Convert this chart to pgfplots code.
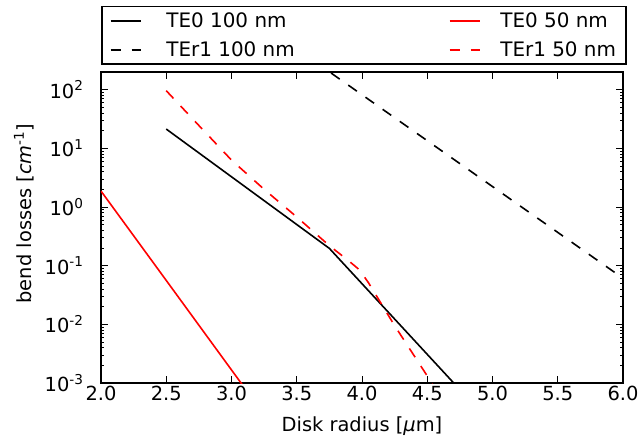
\documentclass[border=0pt]{standalone}
\usepackage{pgfplots}
\pgfplotsset{compat=1.18}
\usepackage{fontspec}
\setmainfont{DejaVu Sans}
\begin{document}
\begin{tikzpicture}[font=\fontsize{19.5}{23.4}\selectfont]
\begin{axis}[
  scale only axis, width=522bp, height=311bp,
  xmin=2, xmax=6, ymin=1e-3, ymax=200, ymode=log,
  xtick={2,2.5,3,3.5,4,4.5,5,5.5,6},
  xticklabel style={/pgf/number format/fixed, /pgf/number format/fixed zerofill, /pgf/number format/precision=1, /pgf/number format/assume math mode=true},
  ytick={1e-3,1e-2,1e-1,1,10,100},
  yticklabels={10\textsuperscript{-3},10\textsuperscript{-2},10\textsuperscript{-1},10\textsuperscript{0},10\textsuperscript{1},10\textsuperscript{2}},
  yticklabel style={xshift=-14bp},
  axis line style={line width=1.6bp},
  tick style={line width=0.9bp, black},
  major tick length=6.7bp, minor tick length=3.3bp,
  tick align=inside,
  xlabel={Disk radius [\textit{μ}m]},
  ylabel={bend losses [\textit{cm}\textsuperscript{-1}]},
  every axis x label/.style={at={(axis description cs:0.5,0)}, anchor=center, yshift=-43bp},
  every axis y label/.style={at={(axis description cs:-0.1475,0.545)}, anchor=center, rotate=90},
  legend columns=2,
  legend cell align=left,
  legend image code/.code={\draw[#1] (0bp,0bp) -- (30bp,0bp);},
  legend style={at={(axis description cs:0,1)}, anchor=south west, yshift=7bp,
    draw=black, line width=1.6bp, font=\fontsize{20}{24}\selectfont,
    inner xsep=8bp, inner ysep=4bp, row sep=9bp,
    /tikz/column 1/.style={column sep=23bp},
    /tikz/column 2/.style={column sep=152bp},
    /tikz/column 3/.style={column sep=18bp}},
]
\addplot[black, line width=1.6bp] coordinates {(2.5,21.3) (3.75,0.197) (4.75,7.7e-4)};
\addlegendentry{TE0 100 nm}
\addplot[red, line width=1.6bp] coordinates {(2.0,1.87) (2.5,0.056) (3.0,1.67e-3) (3.5,5.0e-5)};
\addlegendentry{TE0 50 nm}
\addplot[black, line width=1.6bp, dash pattern=on 10.5bp off 10.5bp] coordinates {(3.5,495) (4.0,81.8) (4.5,13.5) (5.0,2.23) (5.5,0.369) (6.0,0.061)};
\addlegendentry{TEr1 100 nm}
\addplot[red, line width=1.6bp, dash pattern=on 10.5bp off 10.5bp] coordinates {(2.5,96) (2.75,24.5) (3.0,6.3) (3.25,2.0) (3.5,0.676) (3.75,0.219) (3.9,0.120) (3.98,0.085) (4.05,0.051) (4.25,0.0095) (4.5,0.00132) (4.6,5.6e-4)};
\addlegendentry{TEr1 50 nm}
\end{axis}
\pgfresetboundingbox
\path ([xshift=-101bp,yshift=-58bp]current axis.south west) rectangle ([xshift=20bp,yshift=72bp]current axis.north east);
\end{tikzpicture}
\end{document}
